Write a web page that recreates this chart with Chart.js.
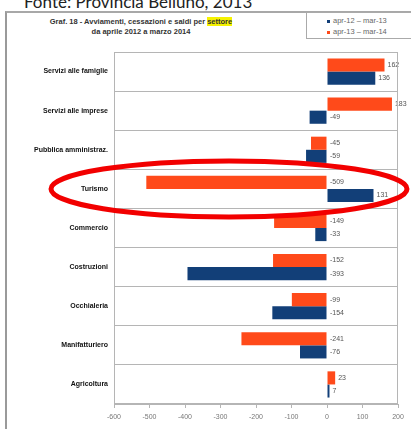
<!DOCTYPE html>
<html>
<head>
<meta charset="utf-8">
<script src="https://cdn.jsdelivr.net/npm/chart.js@4/dist/chart.umd.min.js"></script>
<style>
  html, body { margin: 0; padding: 0; background: #fff; overflow: hidden; }
  #wrap { position: relative; width: 411px; height: 429px; }
  #fonte { position: absolute; left: 24px; top: -9px; font: 17px Lato, sans-serif; color: #222; white-space: nowrap; }
  #frame { position: absolute; left: 5px; top: 11px; width: 420px; height: 430px;
           border-left: 2px solid #9a9a9a; border-top: 2px solid #a8a8a8; }
  #title { position: absolute; left: 10px; top: 17px; width: 262px; text-align: center;
           font: bold 7.5px "Liberation Sans", Arial, sans-serif; color: #333; line-height: 10px; }
  #title mark { background: #f5f200; color: #333; }
  #legend { position: absolute; left: 306px; top: 12px; width: 120px; height: 25px;
            border: 1px solid #aaa; font: 7.5px "Liberation Sans", Arial, sans-serif; color: #666; }
  #legend div { position: absolute; left: 20px; white-space: nowrap; }
  #legend span { display: inline-block; width: 3px; height: 3px; margin-right: 3px; vertical-align: middle; }
  canvas { position: absolute; left: 0; top: 0; }
</style>
</head>
<body>
<div id="wrap">
  <div id="frame"></div>
  <div id="fonte">Fonte: Provincia Belluno, 2013</div>
  <div id="title">Graf. 18 - Avviamenti, cessazioni e saldi per <mark>settore</mark><br>da aprile 2012 a marzo 2014</div>
  <div id="legend">
    <div style="top:3px"><span style="background:#123f78"></span>apr-12 – mar-13</div>
    <div style="top:14px"><span style="background:#ff4a1a"></span>apr-13 – mar-14</div>
  </div>
  <canvas id="chart" width="411" height="429"></canvas>
</div>
<script>
// sectors, top to bottom
const sectors = ['Servizi alle famiglie', 'Servizi alle imprese', 'Pubblica amministraz.', 'Turismo',
  'Commercio', 'Costruzioni', 'Occhialeria', 'Manifatturiero', 'Agricoltura'];
const saldi1314 = [162, 183, -45, -509, -149, -152, -99, -241, 23];   // apr-13 – mar-14 (red)
const saldi1213 = [136, -49, -59, 131, -33, -393, -154, -76, 7];      // apr-12 – mar-13 (blue)
const xTicks = [-600, -500, -400, -300, -200, -100, 0, 100, 200];
const highlighted = 'Turismo';

const RED = '#ff4a1a', BLUE = '#123f78';

// value labels next to the zero line / bar end
const valueLabels = {
  id: 'valueLabels',
  afterDatasetsDraw(chart) {
    const { ctx } = chart;
    const x = chart.scales.x;
    ctx.save();
    ctx.font = '7px "Liberation Sans", Arial, sans-serif';
    ctx.fillStyle = '#555';
    ctx.textBaseline = 'middle';
    chart.data.datasets.forEach((ds, i) => {
      chart.getDatasetMeta(i).data.forEach((bar, j) => {
        const v = ds.data[j];
        const px = x.getPixelForValue(Math.max(v, 0)) + 3;
        ctx.fillText(String(v), px, bar.y);
      });
    });
    ctx.restore();
  }
};

// plot border + red ellipse round the highlighted sector
const extras = {
  id: 'extras',
  afterDraw(chart) {
    const { ctx, chartArea: a } = chart;
    ctx.save();
    ctx.strokeStyle = '#b5b5b5';
    ctx.lineWidth = 1;
    ctx.strokeRect(a.left + 0.5, a.top + 0.5, a.right - a.left - 1, a.bottom - a.top - 1);

    const cy = chart.scales.y.getPixelForValue(sectors.indexOf(highlighted));
    ctx.strokeStyle = '#f20000';
    ctx.lineWidth = 5;
    ctx.beginPath();
    ctx.ellipse(229, cy, 178, 28, 0, 0, Math.PI * 2);
    ctx.stroke();
    ctx.restore();
  }
};

new Chart(document.getElementById('chart'), {
  type: 'bar',
  data: {
    labels: sectors,
    datasets: [
      { label: 'apr-13 – mar-14', data: saldi1314, backgroundColor: RED,
        categoryPercentage: 0.67, barPercentage: 1.0 },
      { label: 'apr-12 – mar-13', data: saldi1213, backgroundColor: BLUE,
        categoryPercentage: 0.67, barPercentage: 1.0 },
    ],
  },
  options: {
    indexAxis: 'y',
    responsive: false,
    animation: false,
    devicePixelRatio: 1,
    layout: { padding: { left: 0, top: 52, right: 13, bottom: 0 } },
    plugins: { legend: { display: false }, tooltip: { enabled: false } },
    scales: {
      x: {
        min: -600, max: 200,
        afterBuildTicks: (s) => { s.ticks = xTicks.map(v => ({ value: v })); },
        afterFit: (s) => { s.height = 25; },
        grid: { drawOnChartArea: false, drawTicks: true, tickLength: 4, color: '#b5b5b5' },
        border: { display: false },
        ticks: { color: '#777', font: { family: '"Liberation Sans", Arial, sans-serif', size: 7 }, padding: 5, maxRotation: 0 },
      },
      y: {
        afterFit: (s) => { s.width = 114; },
        grid: { offset: true, drawTicks: false, color: '#b5b5b5' },
        border: { display: false },
        ticks: { color: '#111', font: { family: '"Liberation Sans", Arial, sans-serif', size: 7, weight: 'bold' }, padding: 6 },
      },
    },
  },
  plugins: [valueLabels, extras],
});
</script>
</body>
</html>
